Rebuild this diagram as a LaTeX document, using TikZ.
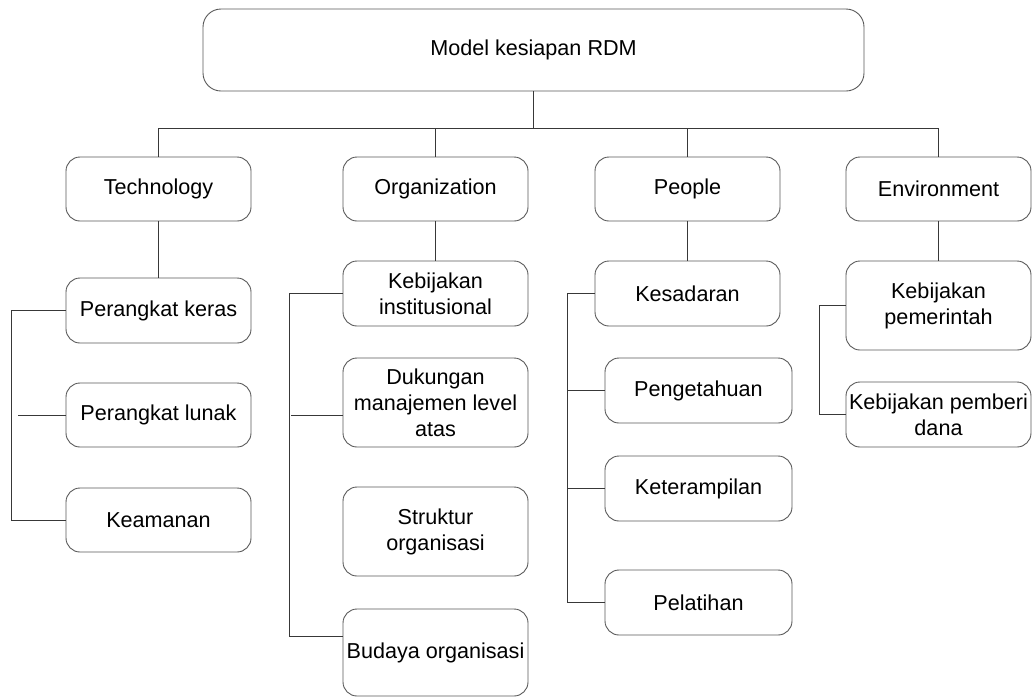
\documentclass[tikz,border=0pt]{standalone}
\usepackage{fontspec}
\setmainfont{Liberation Sans}
\begin{document}
\begin{tikzpicture}[x=1pt,y=-1pt,
  box/.style={draw=black!65, line width=0.9pt, rounded corners=14pt, align=center,
    inner sep=0pt, minimum width=185pt, font=\fontsize{21.6}{26}\selectfont},
  link/.style={draw=black!78, line width=0.9pt}]
\useasboundingbox (0,0) rectangle (1032,697);

% root
\node[box, rounded corners=18pt, minimum width=661pt, minimum height=82pt] (root) at (533.5,50) {Model kesiapan RDM};

% first level
\node[box, minimum height=64pt] (tech) at (158.5,189) {Technology};
\node[box, minimum height=64pt] (org)  at (435.5,189) {Organization};
\node[box, minimum height=64pt] (peop) at (687.5,189) {People};
\node[box, minimum height=64pt] (env)  at (938.5,189) {Environment};

% technology
\node[box, minimum height=65pt] (t1) at (158.5,310.5) {Perangkat keras};
\node[box, minimum height=64pt] (t2) at (158.5,415) {Perangkat lunak};
\node[box, minimum height=64pt] (t3) at (158.5,520) {Keamanan};

% organization
\node[box, minimum height=65pt] (o1) at (435.5,293.5) {Kebijakan\\institusional};
\node[box, minimum height=89pt] (o2) at (435.5,402.5) {Dukungan\\manajemen level\\atas};
\node[box, minimum height=89pt] (o3) at (435.5,531.5) {Struktur\\organisasi};
\node[box, minimum height=87pt] (o4) at (435.5,652.5) {Budaya organisasi};

% people
\node[box, minimum height=65pt] (p1) at (687.5,293.5) {Kesadaran};
\node[box, minimum width=187pt, minimum height=65pt] (p2) at (698.5,390.5) {Pengetahuan};
\node[box, minimum width=187pt, minimum height=65pt] (p3) at (698.5,488.5) {Keterampilan};
\node[box, minimum width=187pt, minimum height=65pt] (p4) at (698.5,602.5) {Pelatihan};

% environment
\node[box, minimum height=89pt] (e1) at (938.5,305.5) {Kebijakan\\pemerintah};
\node[box, minimum height=65pt] (e2) at (938.5,414.5) {Kebijakan pemberi\\dana};

% bus coordinates
\coordinate (hb) at (533,128);
\coordinate (tb) at (11,520);
\coordinate (ts) at (18,415);
\coordinate (ob) at (289,636);
\coordinate (os) at (291,415);
\coordinate (pb) at (567,602.5);
\coordinate (eb) at (819,414.5);

% root to first level
\draw[link] (root.south) -- (root.south |- hb);
\draw[link] (tech.north |- hb) -- (env.north |- hb);
\foreach \n in {tech,org,peop,env}
  \draw[link] (\n.north |- hb) -- (\n.north);

% first level to sub-items
\draw[link] (tech.south) -- (t1.north);
\draw[link] (org.south) -- (o1.north);
\draw[link] (peop.south) -- (p1.north);
\draw[link] (env.south) -- (e1.north);

% side brackets
\draw[link] (t1.west) -| (tb) -- (t3.west);
\draw[link] (ts) -- (t2.west);

\draw[link] (o1.west) -| (ob) -- (o4.west |- ob);
\draw[link] (os) -- (o2.west |- os);

\draw[link] (p1.west) -| (pb) -- (p4.west);
\draw[link] (p2.west -| pb) -- (p2.west);
\draw[link] (p3.west -| pb) -- (p3.west);

\draw[link] (e1.west) -| (eb) -- (e2.west);
\end{tikzpicture}
\end{document}
